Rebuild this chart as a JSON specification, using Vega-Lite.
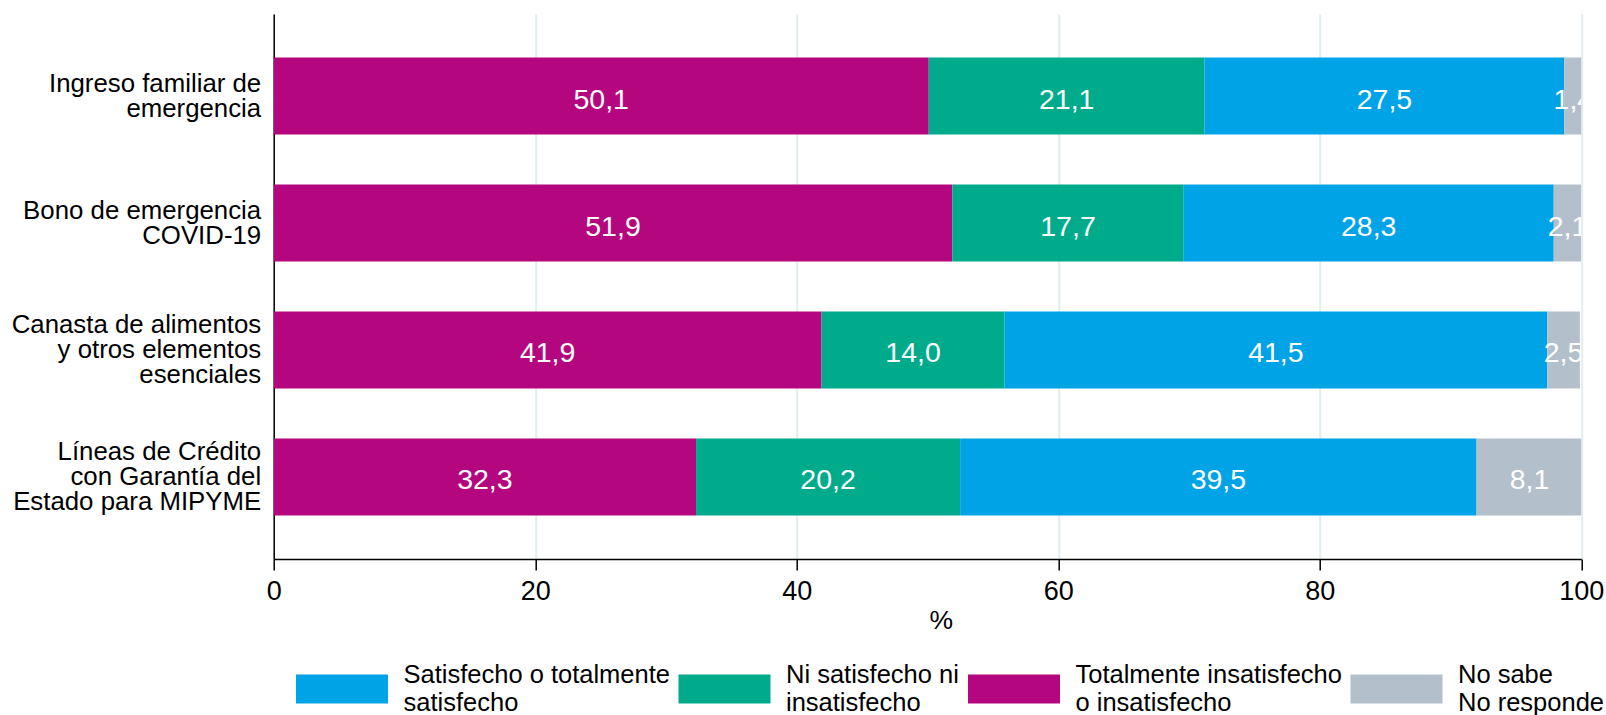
{
  "$schema": "https://vega.github.io/schema/vega-lite/v6.json",
  "width": 1307.5,
  "height": 545,
  "autosize": {"type": "none"},
  "padding": {"left": 273.7, "top": 14, "right": 24.8, "bottom": 156},
  "background": "white",
  "data": {
    "values": [
      {"programa": "Ingreso familiar de|emergencia", "categoria": "Totalmente insatisfecho|o insatisfecho", "orden": 1, "pct": 50.1},
      {"programa": "Ingreso familiar de|emergencia", "categoria": "Ni satisfecho ni|insatisfecho", "orden": 2, "pct": 21.1},
      {"programa": "Ingreso familiar de|emergencia", "categoria": "Satisfecho o totalmente|satisfecho", "orden": 3, "pct": 27.5},
      {"programa": "Ingreso familiar de|emergencia", "categoria": "No sabe|No responde", "orden": 4, "pct": 1.4},
      {"programa": "Bono de emergencia|COVID-19", "categoria": "Totalmente insatisfecho|o insatisfecho", "orden": 1, "pct": 51.9},
      {"programa": "Bono de emergencia|COVID-19", "categoria": "Ni satisfecho ni|insatisfecho", "orden": 2, "pct": 17.7},
      {"programa": "Bono de emergencia|COVID-19", "categoria": "Satisfecho o totalmente|satisfecho", "orden": 3, "pct": 28.3},
      {"programa": "Bono de emergencia|COVID-19", "categoria": "No sabe|No responde", "orden": 4, "pct": 2.1},
      {"programa": "Canasta de alimentos|y otros elementos|esenciales", "categoria": "Totalmente insatisfecho|o insatisfecho", "orden": 1, "pct": 41.9},
      {"programa": "Canasta de alimentos|y otros elementos|esenciales", "categoria": "Ni satisfecho ni|insatisfecho", "orden": 2, "pct": 14.0},
      {"programa": "Canasta de alimentos|y otros elementos|esenciales", "categoria": "Satisfecho o totalmente|satisfecho", "orden": 3, "pct": 41.5},
      {"programa": "Canasta de alimentos|y otros elementos|esenciales", "categoria": "No sabe|No responde", "orden": 4, "pct": 2.5},
      {"programa": "Líneas de Crédito|con Garantía del|Estado para MIPYME", "categoria": "Totalmente insatisfecho|o insatisfecho", "orden": 1, "pct": 32.3},
      {"programa": "Líneas de Crédito|con Garantía del|Estado para MIPYME", "categoria": "Ni satisfecho ni|insatisfecho", "orden": 2, "pct": 20.2},
      {"programa": "Líneas de Crédito|con Garantía del|Estado para MIPYME", "categoria": "Satisfecho o totalmente|satisfecho", "orden": 3, "pct": 39.5},
      {"programa": "Líneas de Crédito|con Garantía del|Estado para MIPYME", "categoria": "No sabe|No responde", "orden": 4, "pct": 8.1}
    ]
  },
  "transform": [
    {"stack": "pct", "groupby": ["programa"], "sort": [{"field": "orden", "order": "ascending"}], "as": ["x0", "x1"]},
    {"calculate": "(datum.x0 + datum.x1) / 2", "as": "xmid"}
  ],
  "encoding": {
    "y": {
      "field": "programa",
      "type": "nominal",
      "sort": ["Ingreso familiar de|emergencia", "Bono de emergencia|COVID-19", "Canasta de alimentos|y otros elementos|esenciales", "Líneas de Crédito|con Garantía del|Estado para MIPYME"],
      "scale": {"paddingInner": 0.394, "paddingOuter": 0.343},
      "axis": {
        "title": null,
        "labelExpr": "split(datum.label, '|')",
        "labelFont": "Liberation Sans",
        "labelFontSize": 25.8,
        "labelLineHeight": 25,
        "labelColor": "#000000",
        "labelPadding": 13,
        "labelLimit": 400,
        "labelOffset": {"condition": {"test": "length(split(datum.value, '|')) > 2", "value": -25}, "value": -12.5},
        "ticks": false,
        "tickSize": 0,
        "domain": true,
        "domainColor": "#000000",
        "domainWidth": 1.5,
        "grid": false
      }
    }
  },
  "layer": [
    {
      "mark": {"type": "bar", "clip": true, "strokeWidth": 0},
      "encoding": {
        "x": {
          "field": "x0",
          "type": "quantitative",
          "scale": {"domain": [0, 100], "nice": false},
          "axis": {
            "title": "%",
            "values": [0, 20, 40, 60, 80, 100],
            "labelFont": "Liberation Sans",
            "labelFontSize": 27,
            "labelColor": "#000000",
            "labelPadding": 8,
            "labelFlush": false,
            "tickSize": 11,
            "tickColor": "#000000",
            "tickWidth": 1.5,
            "domainColor": "#000000",
            "domainWidth": 1.5,
            "grid": true,
            "gridColor": "#e4edf1",
            "gridWidth": 2,
            "titleFont": "Liberation Sans",
            "titleFontSize": 26.5,
            "titleFontWeight": "normal",
            "titleColor": "#000000",
            "titlePadding": 3,
            "titleX": 667
          }
        },
        "x2": {"field": "x1"},
        "color": {
          "field": "categoria",
          "type": "nominal",
          "scale": {
            "domain": ["Satisfecho o totalmente|satisfecho", "Ni satisfecho ni|insatisfecho", "Totalmente insatisfecho|o insatisfecho", "No sabe|No responde"],
            "range": ["#00a3e6", "#00ab8c", "#b4077f", "#b3bfca"]
          },
          "legend": {
            "title": null,
            "orient": "none",
            "legendX": 22.3,
            "legendY": 629,
            "direction": "horizontal",
            "columns": 4,
            "columnPadding": 8.5,
            "symbolType": "M-1,-0.315H1V0.315H-1Z",
            "symbolSize": 8464,
            "symbolStrokeWidth": 0,
            "symbolOpacity": 1,
            "labelExpr": "split(datum.label, '|')",
            "labelFont": "Liberation Sans",
            "labelFontSize": 25.5,
            "labelLineHeight": 26,
            "labelColor": "#000000",
            "labelOffset": 15.5,
            "labelLimit": 500,
            "labelBaseline": "line-bottom"
          }
        },
        "order": {"field": "orden", "type": "quantitative"}
      }
    },
    {
      "mark": {"type": "text", "clip": true, "color": "#ffffff", "font": "Liberation Sans", "fontSize": 28.5, "baseline": "middle", "align": "center", "dy": 3.5},
      "encoding": {
        "x": {"field": "xmid", "type": "quantitative"},
        "text": {"field": "pct", "type": "quantitative", "format": ".1f"}
      }
    }
  ],
  "config": {
    "view": {"stroke": null},
    "locale": {"number": {"decimal": ",", "thousands": ".", "grouping": [3], "currency": ["$", ""]}}
  }
}
